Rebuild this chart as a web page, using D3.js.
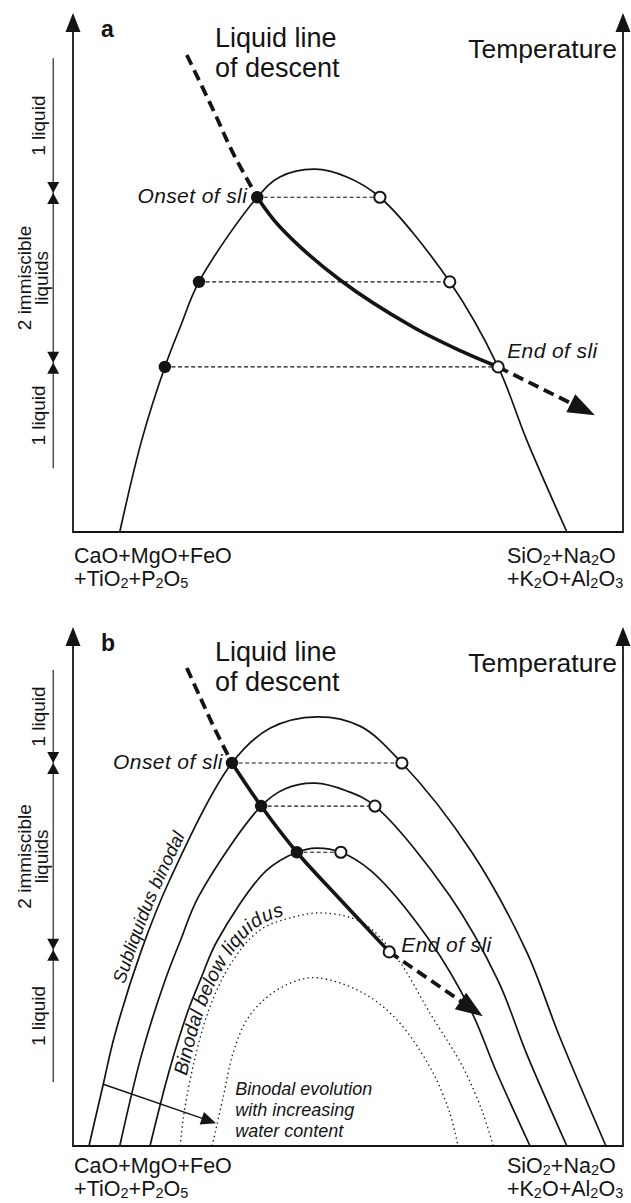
<!DOCTYPE html>
<html>
<head>
<meta charset="utf-8">
<script src="https://cdn.jsdelivr.net/npm/d3@7"></script>
<style>
  html, body { margin: 0; padding: 0; background: #fff; }
  svg { display: block; }
</style>
</head>
<body>
<div id="chart"></div>
<script>
// Schematic T–X sections: composition axis 0 (CaO+MgO+FeO+TiO2+P2O5 pole) to 100
// (SiO2+Na2O+K2O+Al2O3 pole); temperature in arbitrary units (0 at base, 100 at arrow tip).

// ---- Panel a: a single binodal ----
const binodalA = [[8.5,0],[12.5,17.7],[16.7,31.8],[19.5,39.5],[22.9,48.2],[33.5,64.5],[37.6,68.4],
                  [44.0,69.9],[49.8,68.4],[55.8,64.5],[68.5,48.2],[77.3,31.8],[82.5,17.7],[89.8,0]];
// tie lines: [temperature, Fe-rich liquid, Si-rich liquid]
const tiesA = [[64.5,33.5,55.8],[48.2,22.9,68.5],[31.8,16.7,77.3]];
const lldAboveA = [[20.7,91.9],[25.5,81.3],[29.1,73.0],[33.5,64.5]];
const lldSliA   = [[33.5,64.5],[37.6,58.8],[48.5,48.6],[61.8,39.5],[70.9,34.7],[77.3,31.8]];
const lldBelowA = [[77.3,31.8],[94.9,22.5]];
const rangeA    = [91.3, 65.3, 32.6, 12.3];

// ---- Panel b: binodal shrinking with water ----
const binodalOuterB = [[2.9,0],[5.5,11.9],[7.5,21.0],[12.4,37.6],[17.6,51.3],[28.9,73.8],[35.8,80.5],
                       [44.4,82.7],[52.2,80.9],[59.8,73.8],[72.4,56.8],[82.4,37.6],[88.5,21.0],[96.9,0]];
const binodalMidB   = [[8.5,0],[12.5,17.7],[16.7,31.8],[19.5,39.5],[22.9,48.2],[34.2,65.5],[38.5,68.8],
                       [44.0,69.9],[49.8,68.4],[54.9,65.5],[68.5,48.2],[77.3,31.8],[82.5,17.7],[89.8,0]];
const binodalInnerB = [[14.0,0],[17.5,14.5],[20.9,26.0],[23.3,32.4],[26.2,39.5],[35.1,53.0],[40.7,56.6],
                       [44.2,57.4],[48.7,56.6],[54.2,53.0],[64.9,39.5],[72.4,26.0],[76.9,14.5],[83.1,0]];
const subBinodalOuterB = [[19.5,0],[20.0,5.0],[21.8,15.2],[24.9,26.8],[29.1,35.8],[34.0,41.6],[40.0,44.1],
                          [45.5,44.9],[52.7,43.0],[58.9,36.2],[64.9,25.6],[70.9,15.2],[74.5,6.4],[76.4,0]];
const subBinodalInnerB = [[25.3,0],[27.3,9.4],[29.1,17.9],[31.6,24.3],[35.3,28.7],[40.0,31.6],[44.5,32.4],
                          [52.7,29.5],[58.9,24.3],[64.9,15.2],[68.5,6.4],[70.0,0]];
const tiesB = [[73.8,28.9,59.8],[65.5,34.2,54.9],[56.6,40.7,48.7]];
const lldAboveB = [[20.7,92.1],[23.1,86.5],[25.8,80.3],[28.9,73.8]];
const lldSliB   = [[28.9,73.8],[34.2,65.5],[40.7,56.6],[48.5,47.6],[57.5,37.4]];
const lldBelowB = [[57.5,37.4],[74.5,25.0]];
const rangeB    = [91.7, 73.8, 37.8, 12.3];
const waterArrowB = [[5.5,11.9],[26.0,4.4]];

// ---- text ----
const rangeLabels = [["1 liquid"], ["2 immiscible", "liquids"], ["1 liquid"]];
const titleLines  = ["Liquid line", "of descent"];
const axisTitle   = "Temperature";
const leftPole    = [[["CaO+MgO+FeO"]], [["+TiO"],["2",1],["+P"],["2",1],["O"],["5",1]]];
const rightPole   = [[["SiO"],["2",1],["+Na"],["2",1],["O"]], [["+K"],["2",1],["O+Al"],["2",1],["O"],["3",1]]];
const evolutionNote = ["Binodal evolution", "with increasing", "water content"];

const W = 631, H = 1203;
const FONT = "Arial, 'Liberation Sans', Helvetica, sans-serif";
const INK = "#141414";

const x = d3.scaleLinear().domain([0, 100]).range([73, 623]);
const y = d3.scaleLinear().domain([0, 100]).range([532, 13]);

const svg = d3.select("#chart").append("svg")
  .attr("width", W).attr("height", H)
  .style("font-family", FONT);

const smooth = d3.line().x(d => x(d[0])).y(d => y(d[1])).curve(d3.curveCatmullRom.alpha(0.5));

function arrowHead(g, from, tip, len, half) {
  const dx = tip[0] - from[0], dy = tip[1] - from[1], d = Math.hypot(dx, dy);
  const ux = dx / d, uy = dy / d;
  const bx = tip[0] - ux * len, by = tip[1] - uy * len;
  g.append("path")
    .attr("d", `M${tip[0]},${tip[1]}L${bx - uy * half},${by + ux * half}L${bx + uy * half},${by - ux * half}Z`)
    .attr("fill", INK);
  return [bx + ux * 2, by + uy * 2];
}

function offsetAtTemp(node, temp) {
  const target = y(temp), L = node.getTotalLength();
  for (let s = 0; s <= L; s += 0.5) if (node.getPointAtLength(s).y <= target) return s;
  return 0;
}

function poleLabel(g, lines, x0, y0, lead) {
  const t = g.append("text").attr("x", x0).attr("y", y0).attr("font-size", 21.5).attr("fill", INK);
  lines.forEach((parts, i) => {
    parts.forEach((p, j) => {
      const ts = t.append("tspan").text(p[0]);
      if (j === 0) ts.attr("x", x0).attr("y", y0 + i * lead);
      if (p[1]) ts.attr("font-size", 14.5).attr("dy", 2);
      else if (j > 0 && parts[j - 1][1]) ts.attr("dy", -2);
    });
  });
}

function drawPanel(g, p) {
  // frame: composition base line and the two temperature arrows
  g.append("line").attr("x1", x(0)).attr("x2", x(100)).attr("y1", y(0)).attr("y2", y(0))
    .attr("stroke", INK).attr("stroke-width", 1.8);
  [0, 100].forEach(v => {
    g.append("line").attr("x1", x(v)).attr("x2", x(v)).attr("y1", y(0) + 0.9).attr("y2", y(100) + 15)
      .attr("stroke", INK).attr("stroke-width", 1.8);
    g.append("path").attr("d", `M${x(v)},${y(100)}l-7.5,19h15z`).attr("fill", INK);
  });

  // state ranges along the temperature axis
  const xr = x(-3.6);
  for (let i = 0; i < 3; i++) {
    g.append("line").attr("x1", xr).attr("x2", xr).attr("y1", y(p.range[i])).attr("y2", y(p.range[i + 1]))
      .attr("stroke", INK).attr("stroke-width", 1.1);
  }
  p.range.slice(1, 3).forEach(b => {
    const yb = y(b);
    g.append("path").attr("d", `M${xr - 6},${yb - 11}L${xr + 6},${yb - 11}L${xr},${yb}Z`).attr("fill", INK);
    g.append("path").attr("d", `M${xr - 6},${yb + 11}L${xr + 6},${yb + 11}L${xr},${yb}Z`).attr("fill", INK);
  });
  rangeLabels.forEach((lines, i) => {
    const ym = (y(p.range[i]) + y(p.range[i + 1])) / 2;
    lines.forEach((s, k) => {
      const bx = lines.length === 1 ? xr - 8 : xr - 22 + k * 16.5;
      g.append("text").attr("transform", `translate(${bx},${ym}) rotate(-90)`)
        .attr("text-anchor", "middle").attr("font-size", 19).attr("fill", INK).text(s);
    });
  });

  // headings
  g.append("text").attr("x", x(5.1)).attr("y", y(95.4)).attr("font-size", 23).attr("font-weight", "bold")
    .attr("fill", INK).text(p.label);
  titleLines.forEach((s, i) => g.append("text").attr("x", x(25.8)).attr("y", y(93.4) + i * 30)
    .attr("font-size", 27).attr("fill", INK).text(s));
  g.append("text").attr("x", x(98.9)).attr("y", y(91.3)).attr("text-anchor", "end")
    .attr("font-size", 26.5).attr("fill", INK).text(axisTitle);

  poleLabel(g, leftPole, x(0.2), y(0) + p.poleDy, p.poleLead);
  poleLabel(g, rightPole, x(78.9), y(0) + p.poleDy, p.poleLead);

  // sub-liquidus binodals (dotted) and binodals (solid)
  (p.dotted || []).forEach((c, i) => {
    g.append("path").attr("id", `${p.label}-dot-${i}`).attr("d", smooth(c)).attr("fill", "none")
      .attr("stroke", INK).attr("stroke-width", 1.3).attr("stroke-dasharray", "1.4,3.2");
  });
  p.binodals.forEach((c, i) => {
    g.append("path").attr("id", `${p.label}-bin-${i}`).attr("d", smooth(c)).attr("fill", "none")
      .attr("stroke", INK).attr("stroke-width", 1.7);
  });

  // tie lines
  p.ties.forEach(t => {
    g.append("line").attr("x1", x(t[1])).attr("x2", x(t[2])).attr("y1", y(t[0])).attr("y2", y(t[0]))
      .attr("stroke", INK).attr("stroke-width", 1.2).attr("stroke-dasharray", "4,2.6");
  });

  // liquid line of descent
  g.append("path").attr("d", smooth(p.lldAbove)).attr("fill", "none").attr("stroke", INK)
    .attr("stroke-width", 3.8).attr("stroke-dasharray", "11,6");
  g.append("path").attr("d", smooth(p.lldSli)).attr("fill", "none").attr("stroke", INK)
    .attr("stroke-width", 3.6).attr("stroke-linecap", "round");
  const a0 = [x(p.lldBelow[0][0]), y(p.lldBelow[0][1])];
  const a1 = [x(p.lldBelow[1][0]), y(p.lldBelow[1][1])];
  const base = arrowHead(g, a0, a1, 27, 10);
  g.append("line").attr("x1", a0[0]).attr("y1", a0[1]).attr("x2", base[0]).attr("y2", base[1])
    .attr("stroke", INK).attr("stroke-width", 3.8).attr("stroke-dasharray", "11,6");

  // coexisting liquids
  p.ties.forEach(t => {
    g.append("circle").attr("cx", x(t[1])).attr("cy", y(t[0])).attr("r", 6.2).attr("fill", INK);
    g.append("circle").attr("cx", x(t[2])).attr("cy", y(t[0])).attr("r", 5.6)
      .attr("fill", "#fff").attr("stroke", INK).attr("stroke-width", 2);
  });
  const endT = p.lldSli[p.lldSli.length - 1];
  if (!p.ties.some(t => t[0] === endT[1])) {
    g.append("circle").attr("cx", x(endT[0])).attr("cy", y(endT[1])).attr("r", 5.6)
      .attr("fill", "#fff").attr("stroke", INK).attr("stroke-width", 2);
  }

  const onset = p.lldSli[0];
  g.append("text").attr("x", x(onset[0]) - p.onsetDx).attr("y", y(onset[1]) + p.onsetDy)
    .attr("text-anchor", "end").attr("font-size", 21).attr("letter-spacing", 0.4)
    .attr("font-style", "italic").attr("fill", INK).text("Onset of sli");
  g.append("text").attr("x", x(endT[0]) + p.endDx).attr("y", y(endT[1]) + p.endDy)
    .attr("font-size", 21).attr("letter-spacing", 0.4)
    .attr("font-style", "italic").attr("fill", INK).text("End of sli");
}

const gA = svg.append("g");
drawPanel(gA, {
  label: "a", binodals: [binodalA], ties: tiesA, range: rangeA,
  lldAbove: lldAboveA, lldSli: lldSliA, lldBelow: lldBelowA,
  onsetDx: 10, onsetDy: 6, endDx: 9, endDy: -9, poleDy: 31, poleLead: 23
});

const gB = svg.append("g").attr("transform", "translate(0,614)");
drawPanel(gB, {
  label: "b", binodals: [binodalOuterB, binodalMidB, binodalInnerB],
  dotted: [subBinodalOuterB, subBinodalInnerB],
  ties: tiesB, range: rangeB,
  lldAbove: lldAboveB, lldSli: lldSliB, lldBelow: lldBelowB,
  onsetDx: 9, onsetDy: 6, endDx: 12, endDy: 0, poleDy: 27, poleLead: 23
});

// curve labels in panel b
const outerNode = gB.select("#b-bin-0").node();
gB.append("text").attr("font-size", 18.5).attr("font-style", "italic").attr("fill", INK).attr("dy", -5)
  .append("textPath").attr("href", "#b-bin-0").attr("startOffset", offsetAtTemp(outerNode, 30.8))
  .text("Subliquidus binodal");
const dotNode = gB.select("#b-dot-0").node();
gB.append("text").attr("font-size", 19.5).attr("font-style", "italic").attr("fill", INK).attr("dy", -4)
  .append("textPath").attr("href", "#b-dot-0").attr("startOffset", offsetAtTemp(dotNode, 13.3))
  .text("Binodal below liquidus");

// water-content arrow and note
{
  const w0 = [x(waterArrowB[0][0]), y(waterArrowB[0][1])];
  const w1 = [x(waterArrowB[1][0]), y(waterArrowB[1][1])];
  const wb = arrowHead(gB, w0, w1, 15, 6.5);
  gB.append("line").attr("x1", w0[0]).attr("y1", w0[1]).attr("x2", wb[0]).attr("y2", wb[1])
    .attr("stroke", INK).attr("stroke-width", 1.4);
  evolutionNote.forEach((s, i) => gB.append("text").attr("x", x(29.5)).attr("y", y(9.8) + i * 21)
    .attr("font-size", 18).attr("font-style", "italic").attr("fill", INK).text(s));
}
</script>
</body>
</html>
